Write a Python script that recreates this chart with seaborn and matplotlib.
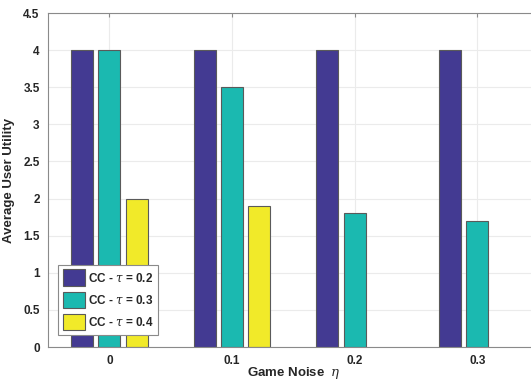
import numpy as np
import pandas as pd
import matplotlib
matplotlib.use("Agg")
import matplotlib.pyplot as plt
import seaborn as sns

# Data: average user utility vs. game noise for three thresholds
noise_levels = ["0", "0.1", "0.2", "0.3"]
series_labels = [r"CC - $\tau$ = 0.2", r"CC - $\tau$ = 0.3", r"CC - $\tau$ = 0.4"]
tau_02 = [4.0, 4.0, 4.0, 4.0]
tau_03 = [4.0, 3.5, 1.8, 1.7]
tau_04 = [2.0, 1.9, np.nan, np.nan]

colors = ["#433A92", "#1BB9B0", "#F1EA29"]

rows = []
for lbl, vals in zip(series_labels, [tau_02, tau_03, tau_04]):
    for x, v in zip(noise_levels, vals):
        if not np.isnan(v):
            rows.append({"noise": x, "series": lbl, "utility": v})
df = pd.DataFrame(rows)

sns.set_style("white")
plt.rcParams["font.family"] = ["Liberation Sans", "DejaVu Sans"]
plt.rcParams["mathtext.fontset"] = "dejavuserif"

W, H = 531, 381
px_per_cat = 122.7
ax_left, ax_right = 48, 560   # the plot box runs past the right edge of the figure

fig = plt.figure(figsize=(W / 100, H / 100), dpi=100)
ax = fig.add_axes([ax_left / W, 1 - 347 / H, (ax_right - ax_left) / W, 334 / H])

sns.barplot(
    data=df, x="noise", y="utility", hue="series",
    order=noise_levels, hue_order=series_labels,
    palette=colors, width=0.6675, gap=0.195,
    edgecolor="#5a5a5a", linewidth=0.8, ax=ax, saturation=1,
)

ax.set_xlim(-0.5, -0.5 + (ax_right - ax_left) / px_per_cat)
ax.set_ylim(0, 4.5)
ax.set_yticks(np.arange(0, 4.51, 0.5))
ax.set_yticklabels(["0", "0.5", "1", "1.5", "2", "2.5", "3", "3.5", "4", "4.5"])
ax.set_axisbelow(True)
ax.grid(True, color="#ebebeb", linewidth=0.8)

for name, s in ax.spines.items():
    s.set_visible(name != "right")
    s.set_color("#8a8a8a")
    s.set_linewidth(0.8)

ax.tick_params(axis="both", direction="in", length=3, color="#8a8a8a",
               labelsize=8.5, top=True, right=False, pad=6)
for t in ax.get_xticklabels() + ax.get_yticklabels():
    t.set_fontweight("bold")
    t.set_color("#262626")

ax.set_xlabel(r"Game Noise  $\eta$", fontsize=9.5, fontweight="bold", color="#262626")
ax.xaxis.set_label_coords((294 - ax_left) / (ax_right - ax_left), -0.055)
ax.xaxis.label.set_va("top")
ax.set_ylabel("Average User Utility", fontsize=9.5, fontweight="bold", color="#262626", labelpad=6)

leg = ax.legend(
    loc="lower left", bbox_to_anchor=(10 / (ax_right - ax_left), 0.036), borderaxespad=0,
    frameon=True, fancybox=False, edgecolor="#8a8a8a", framealpha=1,
    prop={"weight": "bold", "size": 8.5},
    handlelength=1.85, handleheight=1.75, handletextpad=0.3,
    labelspacing=0.5, borderpad=0.4, title=None,
)
leg.get_frame().set_linewidth(0.8)

fig.savefig("out.png", dpi=100)
